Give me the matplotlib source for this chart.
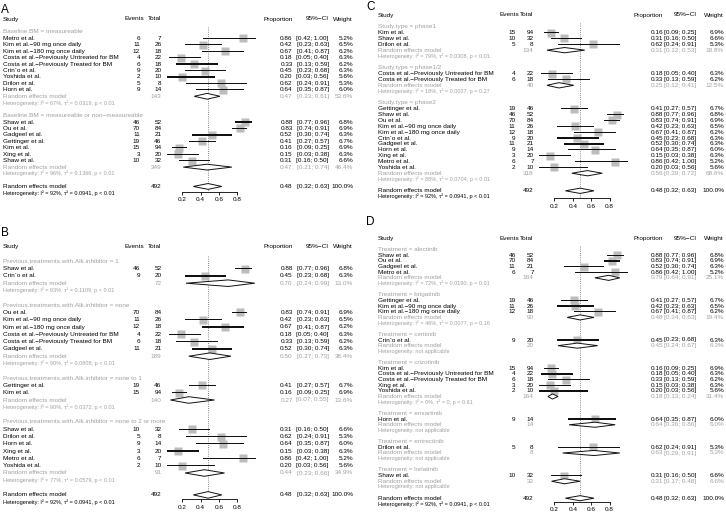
import matplotlib
matplotlib.use("Agg")
import matplotlib.pyplot as plt
from matplotlib.patches import Polygon

# ---------------- data ----------------
study_names = ["Metro et al.", "Kim et al.\u221290 mg once daily", "Kim et al.\u2212180 mg once daily",
               "Costa et al.\u2212Previously Untreated for BM", "Costa et al.\u2212Previously Treated for BM",
               "Crin`o et al.", "Yoshida et al.", "Drilon et al.", "Horn et al.", "Shaw et al.",
               "Ou et al.", "Gadgeel et al.", "Gettinger et al.", "Kim et al.", "Xing et al.", "Shaw et al."]
events = [6, 11, 12, 4, 6, 9, 2, 5, 9, 46, 70, 11, 19, 15, 3, 10]
totals = [7, 26, 18, 22, 18, 20, 10, 8, 14, 52, 84, 21, 46, 94, 20, 32]
props = [0.86, 0.42, 0.67, 0.18, 0.33, 0.45, 0.20, 0.62, 0.64, 0.88, 0.83, 0.52, 0.41, 0.16, 0.15, 0.31]
ci_low = [0.42, 0.23, 0.41, 0.05, 0.13, 0.23, 0.03, 0.24, 0.35, 0.77, 0.74, 0.30, 0.27, 0.09, 0.03, 0.16]
ci_high = [1.00, 0.63, 0.87, 0.40, 0.59, 0.68, 0.56, 0.91, 0.87, 0.96, 0.91, 0.74, 0.57, 0.25, 0.38, 0.50]
weights = [5.2, 6.5, 6.2, 6.3, 6.2, 6.3, 5.6, 5.3, 6.0, 6.8, 6.9, 6.3, 6.7, 6.9, 6.3, 6.6]

overall_n = 492
overall_est, overall_lo, overall_hi = 0.48, 0.32, 0.63
overall_het = "Heterogeneity: I\u00b2 = 92%, \u03c4\u00b2 = 0.0941, p < 0.01"
tick_values = [0.2, 0.4, 0.6, 0.8]

A_groups = ["Baseline.BM = measureable", "Baseline.BM = measureable or non\u2212measureable"]
A_members = [[0, 1, 2, 3, 4, 5, 6, 7, 8], [9, 10, 11, 12, 13, 14, 15]]
A_sub_n = [143, 349]
A_sub_est = [0.47, 0.47]
A_sub_lo = [0.33, 0.21]
A_sub_hi = [0.61, 0.74]
A_sub_w = [53.6, 46.4]
A_sub_het = ["I\u00b2 = 67%, \u03c4\u00b2 = 0.0319, p < 0.01", "I\u00b2 = 96%, \u03c4\u00b2 = 0.1366, p < 0.01"]

B_groups = ["Previous.treatments.with.Alk.inhibitor = 1", "Previous.treatments.with.Alk.inhibitor = none",
            "Previous.treatments.with.Alk.inhibitor = none to 1",
            "Previous.treatments.with.Alk.inhibitor = none to 2 or more"]
B_members = [[9, 5], [10, 1, 2, 3, 4, 11], [12, 13], [15, 7, 8, 14, 0, 6]]
B_sub_n = [72, 189, 140, 91]
B_sub_est = [0.70, 0.50, 0.27, 0.44]
B_sub_lo = [0.24, 0.27, 0.07, 0.23]
B_sub_hi = [0.99, 0.73, 0.55, 0.66]
B_sub_w = [13.0, 38.4, 13.6, 34.9]
B_sub_het = ["I\u00b2 = 93%, \u03c4\u00b2 = 0.1109, p < 0.01", "I\u00b2 = 90%, \u03c4\u00b2 = 0.0808, p < 0.01",
             "I\u00b2 = 90%, \u03c4\u00b2 = 0.0372, p < 0.01", "I\u00b2 = 77%, \u03c4\u00b2 = 0.0579, p < 0.01"]

C_groups = ["Study.type = phase1", "Study.type = phase1/2", "Study.type = phase2"]
C_members = [[13, 15, 7], [3, 4], [12, 9, 10, 1, 2, 5, 11, 8, 14, 0, 6]]
C_sub_n = [134, 40, 318]
C_sub_est = [0.31, 0.25, 0.56]
C_sub_lo = [0.12, 0.12, 0.39]
C_sub_hi = [0.53, 0.41, 0.72]
C_sub_w = [18.8, 12.5, 68.6]
C_sub_het = ["I\u00b2 = 79%, \u03c4\u00b2 = 0.0308, p < 0.01", "I\u00b2 = 18%, \u03c4\u00b2 = 0.0027, p = 0.27",
             "I\u00b2 = 88%, \u03c4\u00b2 = 0.0704, p < 0.01"]

D_groups = ["Treatment = alectinib", "Treatment = brigatinib", "Treatment = ceritinib",
            "Treatment = crizotinib", "Treatment = ensartinib", "Treatment = entrectinib",
            "Treatment = lorlatinib"]
D_members = [[9, 10, 11, 0], [12, 1, 2], [5], [13, 3, 4, 14, 6], [8], [7], [15]]
D_sub_n = [164, 90, 20, 164, 14, 8, 32]
D_sub_est = [0.79, 0.48, 0.45, 0.18, 0.64, 0.63, 0.31]
D_sub_lo = [0.64, 0.34, 0.24, 0.13, 0.36, 0.29, 0.17]
D_sub_hi = [0.91, 0.63, 0.67, 0.24, 0.86, 0.91, 0.48]
D_sub_w = [25.1, 19.4, 6.3, 31.4, 6.0, 5.3, 6.6]
D_sub_het = ["I\u00b2 = 72%, \u03c4\u00b2 = 0.0190, p = 0.01", "I\u00b2 = 46%, \u03c4\u00b2 = 0.0077, p = 0.16",
             "not applicable", "I\u00b2 = 0%, \u03c4\u00b2 = 0, p = 0.61", "not applicable",
             "not applicable", "not applicable"]

# ---------------- layout / style ----------------
W, H = 726, 514
FONT = "Liberation Sans"
FS = 4.6
FS_HET = 4.0
GREY = "#a0a0a0"
SQ = "#bcbcbc"

plt.rcParams["font.family"] = [FONT, "DejaVu Sans"]

fig = plt.figure(figsize=(W / 100, H / 100), dpi=100)
bg = fig.add_axes([0, 0, 1, 1])
bg.set_xlim(0, W)
bg.set_ylim(H, 0)
bg.axis("off")

LAYOUTS = {
    "A": dict(lab=(1, 10), top=19, sp=6.44, x0=164, sc=91.7, sx=3, ev=140, evh=144.3, tot=161.5,
              pr=292.7, ci=328.7, wt=353, axoff=0.8),
    "B": dict(lab=(1, 233), top=246.7, sp=7.3, x0=164, sc=91.7, sx=3, ev=140, evh=144.3, tot=161.5,
              pr=292.7, ci=328.7, wt=353, axoff=0.6),
    "C": dict(lab=(366, 7), top=15, sp=5.86, x0=535.9, sc=92.2, sx=378, ev=515.7, evh=519.7, tot=533.7,
              pr=663, ci=696.3, wt=724, axoff=1.2),
    "D": dict(lab=(366, 222), top=238.3, sp=5.65, x0=535.9, sc=92.2, sx=378, ev=515.7, evh=519.7,
              tot=533.7, pr=663, ci=696.3, wt=724, axoff=0.6),
}


def txt(x, y, s, ha="left", color="black", size=FS):
    bg.text(x, y, s, ha=ha, va="center", fontsize=size, color=color)


def draw_panel(letter, groups, members, sub_n, sub_est, sub_lo, sub_hi, sub_w, sub_het):
    L = LAYOUTS[letter]
    top, sp = L["top"], L["sp"]

    def ypx(i):
        return top + i * sp

    bg.text(L["lab"][0], L["lab"][1], letter, ha="left", va="center", fontsize=8.5)
    txt(L["sx"], ypx(0), "Study")
    txt(L["evh"], ypx(0), "Events", ha="right")
    txt(L["tot"], ypx(0), "Total", ha="right")
    txt(L["pr"], ypx(0), "Proportion", ha="right")
    txt(L["ci"], ypx(0), "95%\u2212CI", ha="right")
    txt(L["wt"], ypx(0), "Weight", ha="right")

    i = 2
    rows = []
    for g in range(len(groups)):
        rows.append(("ghead", i, g)); i += 1
        for s in members[g]:
            rows.append(("study", i, s)); i += 1
        rows.append(("gre", i, g)); i += 1
        rows.append(("ghet", i, g)); i += 1
        i += 1
    rows.append(("ore", i, None))
    ore_i = i
    rows.append(("ohet", i + 1, None))
    imax = i + 1

    xa, xb = -0.12, 1.12
    Lpx = L["x0"] + xa * L["sc"]
    Rpx = L["x0"] + xb * L["sc"]
    ytop_i, ybot_i = -1.0, imax + 2.0
    Tpx, Bpx = ypx(ytop_i), ypx(ybot_i)
    fax = fig.add_axes([Lpx / W, 1 - Bpx / H, (Rpx - Lpx) / W, (Bpx - Tpx) / H])
    fax.set_xlim(xa, xb)
    fax.set_ylim(ybot_i, ytop_i)
    fax.patch.set_alpha(0)
    for s in ["top", "left", "right"]:
        fax.spines[s].set_visible(False)
    ax_i = ore_i + L["axoff"]
    fax.spines["bottom"].set_position(("data", ax_i))
    fax.spines["bottom"].set_bounds(tick_values[0], tick_values[-1])
    fax.spines["bottom"].set_linewidth(0.6)
    fax.set_xticks(tick_values)
    fax.set_xticklabels([f"{t:.1f}" for t in tick_values])
    fax.tick_params(axis="x", direction="out", length=2.5, width=0.6, pad=1.6, labelsize=FS)
    fax.set_yticks([])

    # dotted reference line at the overall estimate
    fax.add_patch(Polygon([(overall_est, 1.3), (overall_est, ax_i)], closed=False, fill=False,
                          edgecolor="#606060", linestyle=(0, (1, 1.6)), lw=0.6, zorder=1))

    line_h = 1.3 / sp  # about 1.3 pixel thick, in row units

    def diamond(y, est, lo, hi):
        fax.add_patch(Polygon([(lo, y), (est, y - 0.45), (hi, y), (est, y + 0.45)], closed=True,
                              facecolor="white", edgecolor="#111111", lw=0.7, zorder=4))

    for kind, r, k in rows:
        y = ypx(r)
        if kind == "ghead":
            txt(L["sx"], y, groups[k], color=GREY)
        elif kind == "study":
            txt(L["sx"], y, study_names[k])
            txt(L["ev"], y, str(events[k]), ha="right")
            txt(L["tot"], y, str(totals[k]), ha="right")
            txt(L["pr"], y, f"{props[k]:.2f}", ha="right")
            txt(L["ci"], y, f"[{ci_low[k]:.2f}; {ci_high[k]:.2f}]", ha="right")
            txt(L["wt"], y, f"{weights[k]:.1f}%", ha="right")
            ms = 6.2 * (weights[k] / 6.9) ** 0.5
            fax.plot([props[k]], [r], marker="s", ms=ms, color=SQ, mec="none", ls="none", zorder=2)
            fax.barh([r], [ci_high[k] - ci_low[k]], left=[ci_low[k]], height=line_h,
                     color="#111111", edgecolor="none", zorder=3)
        elif kind == "gre":
            txt(L["sx"], y, "Random effects model", color=GREY)
            txt(L["tot"], y, str(sub_n[k]), ha="right", color=GREY)
            txt(L["pr"], y, f"{sub_est[k]:.2f}", ha="right", color=GREY)
            txt(L["ci"], y, f"[{sub_lo[k]:.2f}; {sub_hi[k]:.2f}]", ha="right", color=GREY)
            txt(L["wt"], y, f"{sub_w[k]:.1f}%", ha="right", color=GREY)
            diamond(r, sub_est[k], sub_lo[k], sub_hi[k])
        elif kind == "ghet":
            txt(L["sx"], y, "Heterogeneity: " + sub_het[k], color=GREY, size=FS_HET)
        elif kind == "ore":
            txt(L["sx"], y, "Random effects model")
            txt(L["tot"], y, str(overall_n), ha="right")
            txt(L["pr"], y, f"{overall_est:.2f}", ha="right")
            txt(L["ci"], y, f"[{overall_lo:.2f}; {overall_hi:.2f}]", ha="right")
            txt(L["wt"], y, "100.0%", ha="right")
            diamond(r, overall_est, overall_lo, overall_hi)
        elif kind == "ohet":
            txt(L["sx"], y, overall_het, size=FS_HET)

    fax.set_xlim(xa, xb)
    fax.set_ylim(ybot_i, ytop_i)


draw_panel("A", A_groups, A_members, A_sub_n, A_sub_est, A_sub_lo, A_sub_hi, A_sub_w, A_sub_het)
draw_panel("B", B_groups, B_members, B_sub_n, B_sub_est, B_sub_lo, B_sub_hi, B_sub_w, B_sub_het)
draw_panel("C", C_groups, C_members, C_sub_n, C_sub_est, C_sub_lo, C_sub_hi, C_sub_w, C_sub_het)
draw_panel("D", D_groups, D_members, D_sub_n, D_sub_est, D_sub_lo, D_sub_hi, D_sub_w, D_sub_het)

fig.savefig("out.png", dpi=100)
